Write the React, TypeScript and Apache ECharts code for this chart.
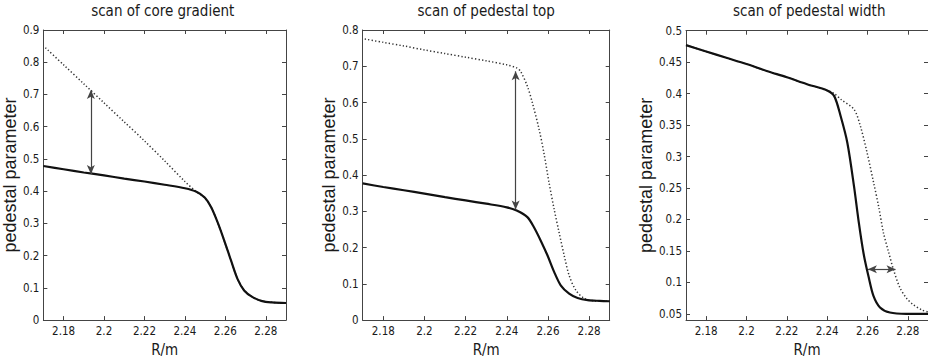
import React, { useEffect, useRef } from "react";
import * as echarts from "echarts";

// ---------- data ----------
const titles = ["scan of core gradient", "scan of pedestal top", "scan of pedestal width"];
const xName = "R/m";
const yName = "pedestal parameter";
const rRange = [2.17, 2.29];
const rTicks = [2.18, 2.2, 2.22, 2.24, 2.26, 2.28];

const yRange1 = [0, 0.9];
const yTicks1 = [0, 0.1, 0.2, 0.3, 0.4, 0.5, 0.6, 0.7, 0.8, 0.9];
const yRange2 = [0, 0.8];
const yTicks2 = [0, 0.1, 0.2, 0.3, 0.4, 0.5, 0.6, 0.7, 0.8];
const yRange3 = [0.04, 0.5];
const yTicks3 = [0.05, 0.1, 0.15, 0.2, 0.25, 0.3, 0.35, 0.4, 0.45, 0.5];

// panel 1: scan of core gradient
const solid1 = [
  [2.17, 0.478], [2.18, 0.468], [2.19, 0.458], [2.2, 0.449], [2.21, 0.439], [2.22, 0.43],
  [2.23, 0.42], [2.24, 0.409], [2.2457, 0.398], [2.2498, 0.38], [2.253, 0.35], [2.2562, 0.303],
  [2.2595, 0.246], [2.2628, 0.185], [2.266, 0.128], [2.2693, 0.092], [2.2733, 0.072],
  [2.2782, 0.059], [2.2831, 0.055], [2.29, 0.053],
];
const dotted1 = [
  [2.171, 0.845], [2.18, 0.792], [2.19, 0.733], [2.2, 0.674], [2.21, 0.615], [2.22, 0.556],
  [2.23, 0.494], [2.24, 0.43], [2.2457, 0.398], [2.2498, 0.38], [2.253, 0.35], [2.2562, 0.303],
  [2.2595, 0.246], [2.2628, 0.185], [2.266, 0.128], [2.2693, 0.092], [2.2733, 0.072],
  [2.2782, 0.059], [2.2831, 0.055], [2.29, 0.053],
];
const arrow1 = [[2.1935, 0.453], [2.1935, 0.714]];

// panel 2: scan of pedestal top
const solid2 = [
  [2.17, 0.377], [2.18, 0.367], [2.19, 0.358], [2.2, 0.349], [2.21, 0.339], [2.22, 0.33],
  [2.23, 0.321], [2.24, 0.311], [2.2448, 0.302], [2.25, 0.284], [2.2532, 0.256], [2.2565, 0.219],
  [2.2598, 0.178], [2.263, 0.133], [2.2662, 0.096], [2.2703, 0.073], [2.2744, 0.061],
  [2.2793, 0.055], [2.285, 0.053], [2.29, 0.052],
];
const dotted2 = [
  [2.171, 0.775], [2.18, 0.766], [2.19, 0.756], [2.2, 0.745], [2.21, 0.735], [2.22, 0.725],
  [2.23, 0.715], [2.24, 0.704], [2.245, 0.695], [2.2467, 0.686], [2.25, 0.645], [2.2524, 0.6],
  [2.2557, 0.526], [2.258, 0.462], [2.2605, 0.38], [2.263, 0.306], [2.2654, 0.242],
  [2.2679, 0.178], [2.2703, 0.123], [2.2736, 0.082], [2.2776, 0.06], [2.2825, 0.053], [2.29, 0.052],
];
const arrow2 = [[2.2443, 0.305], [2.2443, 0.686]];

// panel 3: scan of pedestal width
const solid3 = [
  [2.17, 0.477], [2.18, 0.467], [2.19, 0.457], [2.2, 0.447], [2.21, 0.436], [2.22, 0.426],
  [2.23, 0.415], [2.24, 0.405], [2.2435, 0.396], [2.2467, 0.364], [2.25, 0.322], [2.2533, 0.253],
  [2.2557, 0.195], [2.2581, 0.145], [2.2606, 0.108], [2.263, 0.078], [2.2662, 0.06],
  [2.2711, 0.052], [2.2793, 0.05], [2.29, 0.05],
];
const dotted3 = [
  [2.17, 0.477], [2.18, 0.467], [2.19, 0.457], [2.2, 0.447], [2.21, 0.436], [2.22, 0.426],
  [2.23, 0.415], [2.24, 0.405], [2.2435, 0.4], [2.2467, 0.391], [2.2533, 0.375], [2.2565, 0.348],
  [2.2598, 0.306], [2.263, 0.259], [2.2655, 0.221], [2.2679, 0.179], [2.2703, 0.15],
  [2.2728, 0.121], [2.276, 0.092], [2.2793, 0.075], [2.2825, 0.065], [2.287, 0.056], [2.29, 0.053],
];
const arrow3 = [[2.2602, 0.121], [2.2739, 0.121]];

// ---------- layout / style ----------
const FONT_N = "'Liberation Sans Narrow', 'Arial Narrow', 'DejaVu Sans Condensed', sans-serif";
const FONT = "'Liberation Sans', Arial, sans-serif";
const AXIS_COLOR = "#444";
const TEXT_COLOR = "#1a1a1a";

const panels = [
  { grid: { left: 39.5, top: 30, width: 246.5, height: 291.5 }, yRange: yRange1, yTicks: yTicks1, solid: solid1, dotted: dotted1, arrow: arrow1, nameGap: 15 },
  { grid: { left: 362.7, top: 30, width: 247, height: 291.7 }, yRange: yRange2, yTicks: yTicks2, solid: solid2, dotted: dotted2, arrow: arrow2, nameGap: 13.5 },
  { grid: { left: 686, top: 30.7, width: 246.5, height: 290.5 }, yRange: yRange3, yTicks: yTicks3, solid: solid3, dotted: dotted3, arrow: arrow3, nameGap: 17 },
];

const fmt = (v: number) => String(Number(v.toFixed(2)));

function buildOption() {
  const grid: any[] = [];
  const xAxis: any[] = [];
  const yAxis: any[] = [];
  const series: any[] = [];
  const title: any[] = [];
  panels.forEach((p, i) => {
    grid.push({ ...p.grid, containLabel: false });
    title.push({
      text: titles[i],
      left: p.grid.left + p.grid.width / 2,
      top: 3,
      padding: 0,
      textAlign: "center",
      textStyle: { fontSize: 15, fontWeight: "normal", color: TEXT_COLOR, fontFamily: FONT_N },
    });
  });
  const axisLine = { show: true, onZero: false, lineStyle: { color: AXIS_COLOR, width: 1 } };
  // bottom / left axes (indices 0..2)
  panels.forEach((p, i) => {
    xAxis.push({
      type: "value", gridIndex: i, position: "bottom", min: rRange[0], max: rRange[1],
      axisLine,
      axisTick: { show: true, inside: true, length: 4, customValues: rTicks, lineStyle: { color: AXIS_COLOR } },
      axisLabel: { show: true, customValues: rTicks, margin: 5, fontSize: 11.5, color: TEXT_COLOR, fontFamily: FONT_N, formatter: fmt },
      splitLine: { show: false },
      name: xName, nameLocation: "middle", nameGap: 18.5,
      nameTextStyle: { fontSize: 15, color: TEXT_COLOR, fontFamily: FONT_N },
    });
    yAxis.push({
      type: "value", gridIndex: i, position: "left", min: p.yRange[0], max: p.yRange[1],
      axisLine,
      axisTick: { show: true, inside: true, length: 4, customValues: p.yTicks, lineStyle: { color: AXIS_COLOR } },
      axisLabel: { show: true, customValues: p.yTicks, margin: 4, fontSize: 11.5, color: TEXT_COLOR, fontFamily: FONT_N, formatter: fmt },
      splitLine: { show: false },
      name: yName, nameLocation: "middle", nameGap: p.nameGap,
      nameTextStyle: { fontSize: 18, color: TEXT_COLOR, fontFamily: FONT },
    });
  });
  // top / right mirror axes (indices 3..5)
  panels.forEach((p, i) => {
    xAxis.push({
      type: "value", gridIndex: i, position: "top", min: rRange[0], max: rRange[1],
      axisLine,
      axisTick: { show: true, inside: true, length: 4, customValues: rTicks, lineStyle: { color: AXIS_COLOR } },
      axisLabel: { show: false }, splitLine: { show: false },
    });
    yAxis.push({
      type: "value", gridIndex: i, position: "right", min: p.yRange[0], max: p.yRange[1],
      axisLine,
      axisTick: { show: true, inside: true, length: 4, customValues: p.yTicks, lineStyle: { color: AXIS_COLOR } },
      axisLabel: { show: false }, splitLine: { show: false },
    });
  });
  panels.forEach((p, i) => {
    series.push({
      type: "line", xAxisIndex: i, yAxisIndex: i, data: p.dotted,
      symbol: "none", showSymbol: false, smooth: 0.3,
      lineStyle: { color: "#333", width: 1.5, type: [1.3, 2.2] },
      silent: true, z: 2,
    });
    series.push({
      type: "line", xAxisIndex: i, yAxisIndex: i, data: p.solid,
      symbol: "none", showSymbol: false, smooth: 0.3,
      lineStyle: { color: "#111", width: 2.2 },
      silent: true, z: 3,
      markLine: {
        silent: true, animation: false,
        symbol: ["arrow", "arrow"], symbolSize: [6, 9],
        label: { show: false },
        lineStyle: { color: "#444", width: 1.2, type: "solid" },
        emphasis: { disabled: true },
        data: [[{ coord: p.arrow[0] }, { coord: p.arrow[1] }]],
      },
    });
  });
  return { animation: false, backgroundColor: "#ffffff", title, grid, xAxis, yAxis, series };
}

export default function App() {
  const ref = useRef<HTMLDivElement>(null);
  useEffect(() => {
    if (!ref.current) return;
    const chart = echarts.init(ref.current, null, { renderer: "svg" });
    chart.setOption(buildOption() as any);
    return () => chart.dispose();
  }, []);
  return (
    <div
      ref={ref}
      style={{ position: "absolute", left: 0, top: 0, width: 928, height: 362, background: "#fff" }}
    />
  );
}
